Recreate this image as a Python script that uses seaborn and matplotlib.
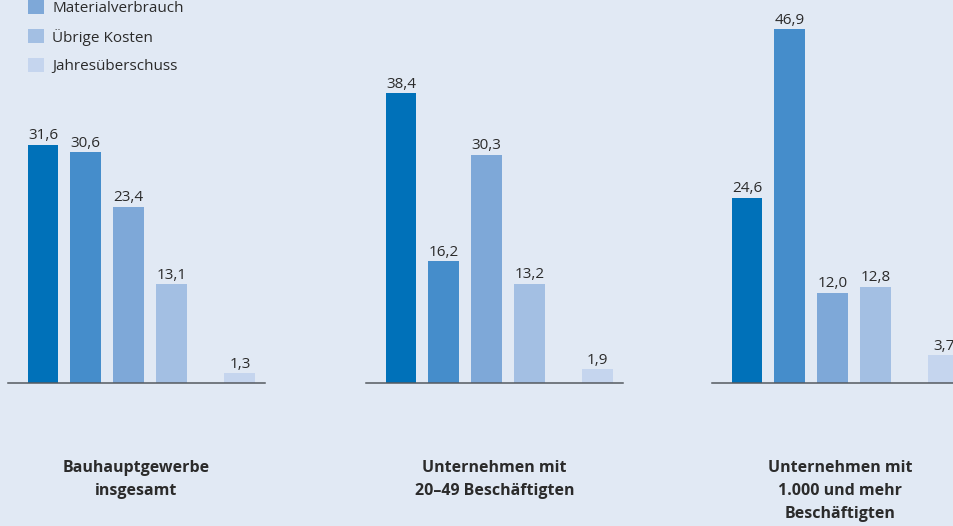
import matplotlib
matplotlib.use("Agg")
import matplotlib.pyplot as plt
from matplotlib.patches import Patch
import pandas as pd
import seaborn as sns

# Kostenstruktur im Bauhauptgewerbe, Anteile in %
gruppen = [
    "Bauhauptgewerbe\ninsgesamt",
    "Unternehmen mit\n20–49 Beschäftigten",
    "Unternehmen mit\n1.000 und mehr\nBeschäftigten",
]
posten = [
    "Personalkosten",
    "Nachunternehmerleistungen",
    "Materialverbrauch",
    "Übrige Kosten",
    "Jahresüberschuss",
]
werte_insgesamt = [31.6, 30.6, 23.4, 13.1, 1.3]
werte_20_49 = [38.4, 16.2, 30.3, 13.2, 1.9]
werte_1000 = [24.6, 46.9, 12.0, 12.8, 3.7]
legende_posten = ["Materialverbrauch", "Übrige Kosten", "Jahresüberschuss"]

farben = ["#0071b9", "#458dcb", "#7ea8d8", "#a3bfe3", "#c5d5ee"]
hintergrund = "#e1e9f4"
textfarbe = "#2b2b2b"

sns.set_theme(style="white")
plt.rcParams["font.family"] = ["Open Sans", "DejaVu Sans"]

W, H, DPI = 954, 526, 100
fig = plt.figure(figsize=(W / DPI, H / DPI), dpi=DPI, facecolor=hintergrund)

# Geometrie in Pixeln
basis_y = 383.3          # Grundlinie der Balken
px_pro_prozent = 7.55
achse_breite = 257
achse_links = [8, 366, 712]
slot = 42.8              # Abstand der Balkenmitten
erster_balken = 35       # Abstand erste Balkenmitte vom Achsenanfang
y_max = 50

# x-Positionen der Balken: vier dicht, Jahresüberschuss abgesetzt
positionen = [0, 1, 2, 3, 4.6]


def komma(v):
    return f"{v:.1f}".replace(".", ",")


for links, werte, titel in zip(achse_links, [werte_insgesamt, werte_20_49, werte_1000], gruppen):
    hoehe_px = y_max * px_pro_prozent
    ax = fig.add_axes([links / W, (H - basis_y) / H, achse_breite / W, hoehe_px / H])
    ax.set_facecolor("none")
    df = pd.DataFrame({"pos": positionen, "wert": werte, "posten": posten})
    sns.barplot(
        data=df, x="pos", y="wert", hue="posten", hue_order=posten,
        palette=farben, native_scale=True, dodge=False, width=0.72,
        saturation=1, legend=False, ax=ax, linewidth=0,
    )
    for cont in ax.containers:
        ax.bar_label(cont, fmt=komma, padding=1, fontsize=11, color=textfarbe)
    ax.set_xlim(-erster_balken / slot, (achse_breite - erster_balken) / slot)
    ax.set_ylim(0, y_max)
    ax.set_xticks([])
    ax.set_yticks([])
    ax.set_xlabel("")
    ax.set_ylabel("")
    for s in ["left", "right", "top"]:
        ax.spines[s].set_visible(False)
    ax.spines["bottom"].set_color("#555a60")
    ax.spines["bottom"].set_linewidth(1.1)

    # Gruppenbeschriftung unter der Grundlinie
    mitte = (links + achse_breite / 2) / W
    for i, zeile in enumerate(titel.split("\n")):
        y_px = 471.5 + i * 23.5
        fig.text(mitte, (H - y_px) / H, zeile, ha="center", va="baseline",
                 fontsize=11.5, fontweight="bold", color=textfarbe)

# Legende oben links
handles = [Patch(facecolor=farben[posten.index(p)], edgecolor="none") for p in legende_posten]
fig.legend(
    handles, legende_posten, loc="upper left",
    bbox_to_anchor=(28 / W, 1.0), frameon=False, fontsize=11,
    handlelength=1.05, handleheight=1.05, handletextpad=0.55,
    labelspacing=0.8, borderpad=0, borderaxespad=0, labelcolor=textfarbe,
)

fig.savefig("out.png", dpi=DPI, facecolor=hintergrund)
